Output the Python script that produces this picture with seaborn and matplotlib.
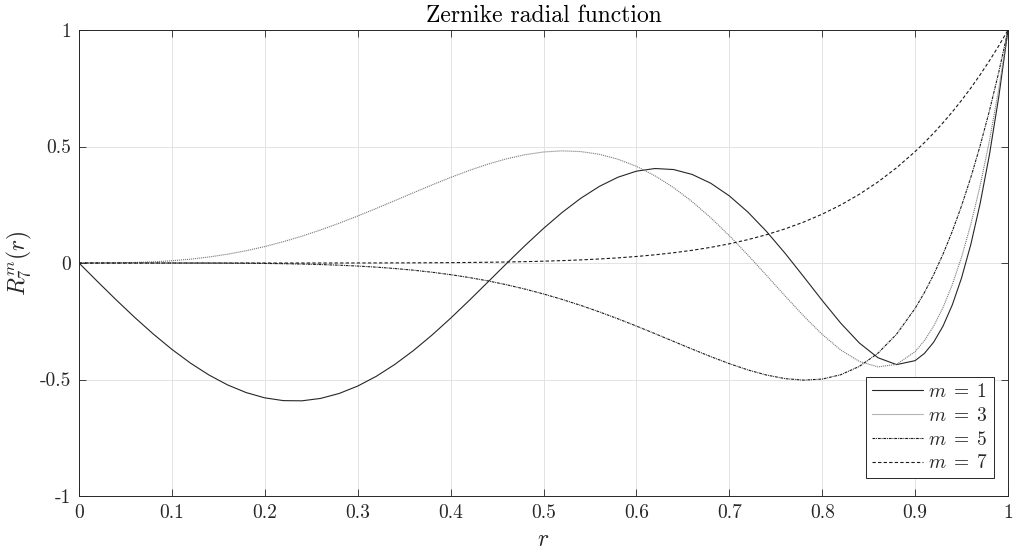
import numpy as np
import pandas as pd
import matplotlib
matplotlib.use("Agg")
import matplotlib.pyplot as plt
import seaborn as sns

# sample positions r
r = [0.00, 0.02, 0.04, 0.06, 0.08, 0.10, 0.12, 0.14, 0.16, 0.18,
     0.20, 0.22, 0.24, 0.26, 0.28, 0.30, 0.32, 0.34, 0.36, 0.38,
     0.40, 0.42, 0.44, 0.46, 0.48, 0.50, 0.52, 0.54, 0.56, 0.58,
     0.60, 0.62, 0.64, 0.66, 0.68, 0.70, 0.72, 0.74, 0.76, 0.78,
     0.80, 0.82, 0.84, 0.86, 0.88, 0.90, 0.91, 0.92, 0.93, 0.94,
     0.95, 0.96, 0.97, 0.98, 0.99, 1.00]

m1 = [0.0, -0.07976, -0.15809, -0.23357, -0.30484, -0.3706, -0.42964, -0.48087, -0.52332, -0.55616,
      -0.57875, -0.59061, -0.59145, -0.58120, -0.55998, -0.52815, -0.48626, -0.43511, -0.37569, -0.30920,
      -0.23706, -0.16081, -0.08225, -0.00316, 0.07441, 0.14844, 0.21684, 0.27753, 0.32858, 0.36801,
      0.39418, 0.40562, 0.40118, 0.38019, 0.3424, 0.2882, 0.21865, 0.13563, 0.04195, -0.05853,
      -0.16077, -0.25836, -0.34344, -0.40647, -0.43611, -0.41901, -0.38816, -0.33962, -0.27106, -0.18000,
      -0.0638, 0.08038, 0.25555, 0.46483, 0.71185, 1.0]

m3 = [0.0, 0.00008, 0.000637, 0.002137, 0.005022, 0.0097, 0.016541, 0.025849, 0.03787, 0.05278,
      0.07067, 0.09154, 0.11532, 0.14180, 0.17072, 0.20169, 0.23423, 0.26777, 0.30162, 0.33504,
      0.36721, 0.39722, 0.42413, 0.44699, 0.46479, 0.47656, 0.48136, 0.47831, 0.46666, 0.44573,
      0.41507, 0.37442, 0.3238, 0.26355, 0.19435, 0.11734, 0.03416, -0.05301, -0.14132, -0.22723,
      -0.30638, -0.37352, -0.42242, -0.44577, -0.43505, -0.38047, -0.33327, -0.27079, -0.19136, -0.09325,
      0.02541, 0.16658, 0.33235, 0.52493, 0.74666, 1.0]

m5 = [0.0, 0.0, 0.0, -0.0000047, -0.0000195, -0.0000593, -0.000147, -0.000315, -0.000610, -0.001091,
      -0.00183, -0.002918, -0.004457, -0.006567, -0.009382, -0.01305, -0.017727, -0.023584, -0.030795, -0.039532,
      -0.04997, -0.062277, -0.076602, -0.093071, -0.111787, -0.13281, -0.156158, -0.181776, -0.209542, -0.239255,
      -0.270605, -0.303166, -0.336384, -0.369539, -0.401751, -0.43194, -0.458808, -0.480814, -0.496151, -0.502714,
      -0.498074, -0.47944, -0.443639, -0.387067, -0.305662, -0.194862, -0.126866, -0.049563, 0.037776, 0.135919,
      0.245676, 0.367897, 0.503477, 0.653354, 0.818517, 1.0]

m7 = [0.0, 0.0, 0.0, 0.0, 0.0, 0.0000001, 0.00000036, 0.000001, 0.0000027, 0.000006,
      0.0000128, 0.000025, 0.000046, 0.00008, 0.000135, 0.000219, 0.000344, 0.000525, 0.000784, 0.001144,
      0.001638, 0.002305, 0.003193, 0.004358, 0.005871, 0.0078125, 0.010281, 0.013389, 0.017271, 0.02208,
      0.027994, 0.035216, 0.04398, 0.054552, 0.06723, 0.082354, 0.100306, 0.121513, 0.146452, 0.175656,
      0.209715, 0.249286, 0.29509, 0.347928, 0.408676, 0.478297, 0.516761, 0.557847, 0.601701, 0.648478,
      0.698337, 0.751448, 0.807983, 0.868126, 0.932065, 1.0]

labels = [r"$m\;=\;1$", r"$m\;=\;3$", r"$m\;=\;5$", r"$m\;=\;7$"]
xticks = [0, 0.1, 0.2, 0.3, 0.4, 0.5, 0.6, 0.7, 0.8, 0.9, 1]
xticklabels = ["0", "0.1", "0.2", "0.3", "0.4", "0.5", "0.6", "0.7", "0.8", "0.9", "1"]
yticks = [-1, -0.5, 0, 0.5, 1]
yticklabels = ["-1", "-0.5", "0", "0.5", "1"]

sns.set_theme(style="white")
plt.rcParams["font.family"] = ["cmr10", "DejaVu Serif"]
plt.rcParams["mathtext.fontset"] = "cm"
plt.rcParams["axes.unicode_minus"] = False

df = pd.concat([
    pd.DataFrame({"r": r, "R": vals, "series": lab})
    for vals, lab in zip([m1, m3, m5, m7], labels)
])

styles = {
    labels[0]: dict(color="#262626", ls="-"),
    labels[1]: dict(color="#7a7a7a", ls=(0, (1, 0.8))),
    labels[2]: dict(color="#1a1a1a", ls=(0, (2.5, 0.8, 0.8, 0.8))),
    labels[3]: dict(color="#1a1a1a", ls=(0, (3, 2))),
}

fig = plt.figure(figsize=(10.14, 5.58), dpi=100)
ax = fig.add_axes([0.0779, 0.1111, 0.9162, 0.8351])

for lab in labels:
    sub = df[df["series"] == lab]
    sns.lineplot(data=sub, x="r", y="R", ax=ax, label=lab, color=styles[lab]["color"],
                 linestyle=styles[lab]["ls"], linewidth=0.8, estimator=None, sort=False)

ax.set_xlim(0, 1)
ax.set_ylim(-1, 1)
ax.set_xticks(xticks)
ax.set_xticklabels(xticklabels)
ax.set_yticks(yticks)
ax.set_yticklabels(yticklabels)
ax.grid(True, color="#e3e3e3", linewidth=0.7)
ax.tick_params(direction="in", length=5, width=0.6, colors="#262626", labelsize=14,
               top=True, right=True, bottom=True, left=True, pad=6)
for s in ax.spines.values():
    s.set_color("#262626")
    s.set_linewidth(0.7)
    s.set_visible(True)

ax.set_title("Zernike radial function", fontsize=17, color="black", pad=6)
ax.set_xlabel("$r$", fontsize=17, labelpad=5)
ax.set_ylabel("$R_7^m(r)$", fontsize=17, labelpad=4)

leg = ax.legend(loc="lower right", bbox_to_anchor=(0.985, 0.038), fontsize=14, frameon=True,
                fancybox=False, edgecolor="#262626", framealpha=1, handlelength=2.6,
                handletextpad=0.3, borderpad=0.3, labelspacing=0.3, borderaxespad=0)
leg.get_frame().set_linewidth(0.7)

fig.savefig("out.png", dpi=100)
